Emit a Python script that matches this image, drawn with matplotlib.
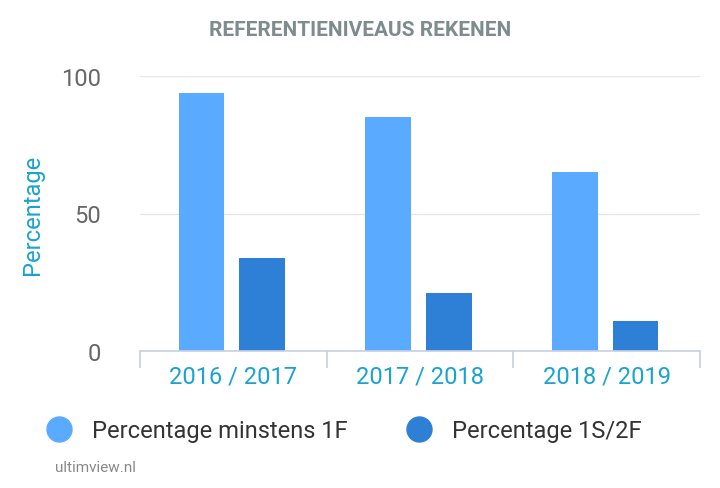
import numpy as np
from matplotlib import pyplot as plt
from matplotlib.lines import Line2D

categories = ["2016 / 2017", "2017 / 2018", "2018 / 2019"]
minstens_1f = [94, 85, 65]
pct_1s2f = [34, 21, 11]

light = "#5aabff"
dark = "#2e7fd6"
cyan = "#1aa3d0"
grey = "#666666"

plt.rcParams["font.family"] = "Roboto"
fig = plt.figure(figsize=(7.2, 4.89), dpi=100)
ax = fig.add_axes([140 / 720, 1 - 352 / 489, 560 / 720, 275 / 489])

x = np.arange(len(categories))
w = 0.245
ax.bar(x - 0.17, minstens_1f, width=w, color=light)
ax.bar(x + 0.155, pct_1s2f, width=w, color=dark)

ax.set_xlim(-0.5, len(categories) - 0.5)
ax.set_ylim(0, 100)
ax.set_yticks([0, 50, 100])
ax.tick_params(axis="y", length=0, labelsize=17, labelcolor=grey, pad=28)
ax.set_xticks(x)
ax.set_xticklabels(categories, color=cyan, fontsize=17)
ax.tick_params(axis="x", length=0, pad=10)
ax.set_xticks([-0.5, 0.5, 1.5, 2.5], minor=True)
ax.tick_params(axis="x", which="minor", length=12, color="#c8d0e0", width=1.2)
ax.grid(axis="y", color="#e6e6e6", lw=1)
ax.set_axisbelow(True)
for s in ["top", "right", "left"]:
    ax.spines[s].set_visible(False)
ax.spines["bottom"].set_color("#c8d0e0")
ax.spines["bottom"].set_linewidth(1.2)
ax.set_ylabel("Percentage", color=cyan, fontsize=17, labelpad=12)

fig.text(0.5, 1 - 30 / 489, "REFERENTIENIVEAUS REKENEN", ha="center", va="center",
         fontsize=15, fontweight="bold", color="#7f8c8d")

handles = [Line2D([], [], marker="o", ls="", markersize=18, color=light),
           Line2D([], [], marker="o", ls="", markersize=18, color=dark)]
fig.legend(handles, ["Percentage minstens 1F", "Percentage 1S/2F"], loc="center",
           bbox_to_anchor=(0.47, 1 - 432 / 489), ncol=2, frameon=False,
           fontsize=17, labelcolor="#333333", columnspacing=2, handletextpad=0.4)

fig.text(55 / 720, 1 - 468 / 489, "ultimview.nl", fontsize=11, color="#888888", va="center")

fig.savefig("out.png", dpi=100)
